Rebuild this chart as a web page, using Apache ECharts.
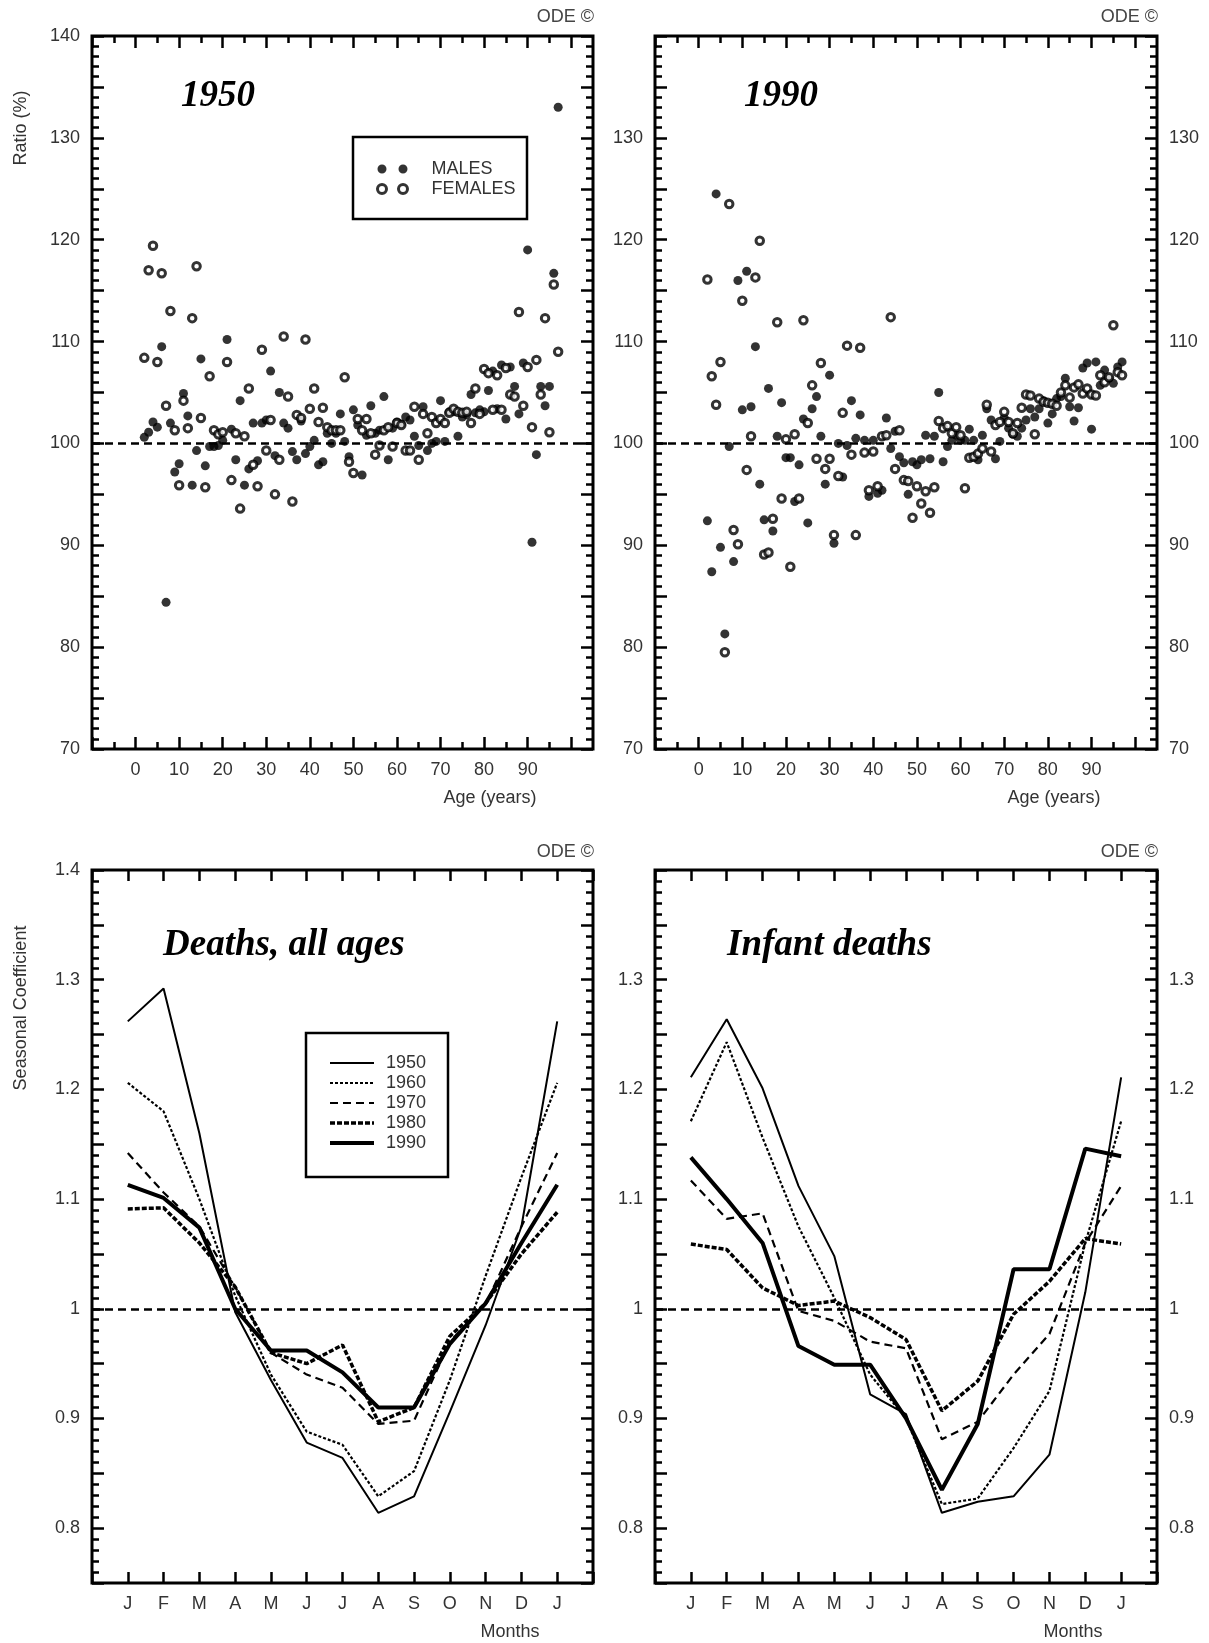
<!DOCTYPE html>
<html><head><meta charset="utf-8">
<script src="https://cdn.jsdelivr.net/npm/echarts@6/dist/echarts.min.js"></script>
<style>html,body{margin:0;padding:0;background:#fff}#c{width:1209px;height:1643px}</style>
</head><body><div id="c"></div>
<script>
// ---------------- DATA ----------------
const ages = [2,3,4,5,6,7,8,9,10,11,12,13,14,15,16,17,18,19,20,21,22,23,24,25,26,27,28,29,30,31,32,33,34,35,36,37,38,39,40,41,42,43,44,45,46,47,48,49,50,51,52,53,54,55,56,57,58,59,60,61,62,63,64,65,66,67,68,69,70,71,72,73,74,75,76,77,78,79,80,81,82,83,84,85,86,87,88,89,90,91,92,93,94,95,96,97];

const males1950 = [100.6,101.1,102.1,101.6,109.5,84.4,102.0,97.2,98.0,104.9,
102.7,95.9,99.3,108.3,97.8,99.7,99.7,99.8,100.3,110.2,
101.4,98.4,104.2,95.9,97.5,102.0,98.3,102.0,102.3,107.1,
98.8,105.0,102.0,101.5,99.2,98.4,102.2,99.0,99.7,100.3,
97.9,98.2,101.0,100.0,101.0,102.9,100.2,98.7,103.3,101.8,
96.9,100.8,103.7,101.0,101.3,104.6,98.4,101.5,102.1,101.9,
102.6,102.3,100.7,99.8,103.6,99.3,100.0,100.2,104.2,100.2,
103.1,103.1,100.7,102.6,102.8,104.8,103.0,103.3,103.1,105.2,
107.1,103.4,107.7,102.4,107.5,105.6,102.9,107.9,119.0,90.3,
98.9,105.6,103.7,105.6,116.7,133.0];

const females1950 = [108.4,117.0,119.4,108.0,116.7,103.7,113.0,101.3,95.9,104.2,
101.5,112.3,117.4,102.5,95.7,106.6,101.3,100.9,101.1,108.0,
96.4,101.0,93.6,100.7,105.4,97.9,95.8,109.2,99.3,102.3,
95.0,98.4,110.5,104.6,94.3,102.8,102.5,110.2,103.4,105.4,
102.1,103.5,101.6,101.3,101.3,101.3,106.5,98.2,97.1,102.4,
101.3,102.4,101.0,98.9,99.8,101.3,101.6,99.7,102.0,101.8,
99.3,99.3,103.6,98.4,102.9,101.0,102.6,102.0,102.4,102.0,
103.0,103.4,103.1,103.0,103.1,102.0,105.4,102.9,107.3,106.9,
103.3,106.7,103.3,107.4,104.8,104.6,112.9,103.7,107.5,101.6,
108.2,104.8,112.3,101.1,115.6,109.0];

const males1990 = [92.4,87.4,124.5,89.8,81.3,99.7,88.4,116.0,103.3,116.9,
103.6,109.5,96.0,92.5,105.4,91.4,100.7,104.0,98.6,98.6,
94.3,97.9,102.4,92.2,103.4,104.6,100.7,96.0,106.7,90.2,
100.0,96.7,99.8,104.2,100.5,102.8,100.3,94.8,100.3,95.1,
95.4,102.5,99.5,101.2,98.7,98.1,95.0,98.2,97.9,98.4,
100.8,98.5,100.7,105.0,98.2,99.7,100.3,100.8,100.3,100.3,
101.4,100.3,98.4,100.8,103.4,102.3,98.5,100.2,102.5,101.5,
100.9,100.7,101.5,102.3,103.4,102.6,103.4,104.2,102.0,102.9,
104.4,104.6,106.4,103.6,102.2,103.5,107.4,107.9,101.4,108.0,
105.7,107.2,106.4,105.9,107.5,108.0];

const females1990 = [116.1,106.6,103.8,108.0,79.5,123.5,91.5,90.1,114.0,97.4,
100.7,116.3,119.9,89.1,89.3,92.6,111.9,94.6,100.4,87.9,
100.9,94.6,112.1,102.0,105.7,98.5,107.9,97.5,98.5,91.0,
96.8,103.0,109.6,98.9,91.0,109.4,99.1,95.4,99.2,95.8,
100.7,100.8,112.4,97.5,101.3,96.4,96.3,92.7,95.8,94.1,
95.3,93.2,95.7,102.2,101.5,101.7,101.0,101.6,100.8,95.6,
98.6,98.7,99.0,99.5,103.8,99.2,101.8,102.1,103.1,102.1,
101.0,102.0,103.5,104.8,104.7,100.9,104.4,104.1,104.0,103.9,
103.7,105.0,105.7,104.5,105.5,105.8,104.9,105.4,104.8,104.7,
106.7,106.0,106.5,111.6,107.0,106.7];

const monthPos = [1,2,3,4,5,6,7,8,9,10,11,12,13];
const monthLabels = ['J','F','M','A','M','J','J','A','S','O','N','D','J'];
const yearNames = ['1950','1960','1970','1980','1990'];

// Deaths, all ages
const allAges1950 = [1.262,1.292,1.160,0.997,0.935,0.878,0.864,0.814,0.829,0.906,0.985,1.075,1.262];
const allAges1960 = [1.206,1.180,1.100,1.012,0.940,0.888,0.876,0.829,0.852,0.935,1.030,1.120,1.206];
const allAges1970 = [1.142,1.106,1.075,1.020,0.960,0.940,0.928,0.895,0.898,0.970,1.004,1.075,1.142];
const allAges1980 = [1.091,1.092,1.060,1.020,0.960,0.950,0.967,0.897,0.910,0.975,1.005,1.050,1.088];
const allAges1990 = [1.113,1.101,1.074,1.000,0.962,0.962,0.942,0.910,0.910,0.968,1.005,1.060,1.113];

// Infant deaths
const infant1950 = [1.211,1.264,1.201,1.112,1.048,0.922,0.904,0.814,0.824,0.829,0.867,1.015,1.211];
const infant1960 = [1.171,1.243,1.156,1.075,1.010,0.940,0.900,0.822,0.827,0.873,0.925,1.060,1.171];
const infant1970 = [1.117,1.082,1.087,0.998,0.989,0.970,0.964,0.881,0.897,0.940,0.977,1.060,1.112];
const infant1980 = [1.059,1.054,1.019,1.003,1.007,0.992,0.972,0.907,0.934,0.995,1.025,1.064,1.059];
const infant1990 = [1.138,1.100,1.060,0.966,0.949,0.949,0.900,0.835,0.895,1.036,1.036,1.146,1.139];

const ageMajorTicks = [-10,0,10,20,30,40,50,60,70,80,90,100];
const ageMinorTicks = [-5,5,15,25,35,45,55,65,75,85,95];
const ageTickLabels = [0,10,20,30,40,50,60,70,80,90];

// ---------------- STYLE ----------------
const TEXT = '#333';
const SANS = '"Liberation Sans", Arial, sans-serif';
const SERIF = '"Liberation Serif", "Times New Roman", serif';
const tickLine = {color:'#000', width:2.5};

const grids = [
  {left:92, top:36, width:501, height:713},
  {left:655, top:36, width:502, height:713},
  {left:92, top:870, width:501, height:713},
  {left:655, top:870, width:502, height:713}
].map(g => Object.assign({show:true, borderColor:'#000', borderWidth:3, backgroundColor:'transparent', containLabel:false}, g));

const xAxis = [], yAxis = [];
const xIdx = [], yIdx = [];
function push(arr, o){ arr.push(o); return arr.length - 1; }
function baseAxis(gi, position, extra){
  return Object.assign({type:'value', gridIndex:gi, position:position,
    axisLine:{show:false, onZero:false}, splitLine:{show:false}, minorSplitLine:{show:false}}, extra);
}
function lbl(show, extra){
  return Object.assign({show:show, color:TEXT, fontSize:18, fontFamily:SANS, margin:12}, extra);
}

[0,1].forEach(gi => {
  ['bottom','top'].forEach(pos => {
    const i = push(xAxis, baseAxis(gi, pos, {min:-10, max:105, interval:10,
      axisTick:{show:true, inside:true, length:12, lineStyle:tickLine, customValues:ageMajorTicks},
      axisLabel:lbl(pos === 'bottom', {customValues:ageTickLabels,
        formatter: v => (v >= 0 && v <= 90) ? String(v) : ''})}));
    if (pos === 'bottom') xIdx[gi] = i;
    push(xAxis, baseAxis(gi, pos, {min:-10, max:105, interval:10,
      axisTick:{show:true, inside:true, length:7, lineStyle:tickLine, customValues:ageMinorTicks},
      axisLabel:{show:false}}));
  });
  ['left','right'].forEach(pos => {
    const show = pos === 'left' || gi === 1;
    const i = push(yAxis, baseAxis(gi, pos, {min:70, max:140, interval:5,
      axisTick:{show:true, inside:true, length:12, lineStyle:tickLine},
      minorTick:{show:true, splitNumber:5, length:7, lineStyle:tickLine},
      axisLabel:lbl(show, {formatter: v => (v % 10 === 0 && !(gi === 1 && v === 140)) ? String(v) : ''})}));
    if (pos === 'left') yIdx[gi] = i;
  });
});

[2,3].forEach(gi => {
  ['bottom','top'].forEach(pos => {
    const i = push(xAxis, baseAxis(gi, pos, {min:0, max:14, interval:1,
      axisTick:{show:true, inside:true, length:11, lineStyle:tickLine},
      axisLabel:lbl(pos === 'bottom', {formatter: v => (v >= 1 && v <= 13) ? monthLabels[v - 1] : ''})}));
    if (pos === 'bottom') xIdx[gi] = i;
  });
  ['left','right'].forEach(pos => {
    const show = pos === 'left' || gi === 3;
    const i = push(yAxis, baseAxis(gi, pos, {min:0.75, max:1.4, interval:0.05,
      axisTick:{show:true, inside:true, length:12, lineStyle:tickLine},
      minorTick:{show:true, splitNumber:5, length:7, lineStyle:tickLine},
      axisLabel:lbl(show, {formatter: v => {
        const r = Math.round(v * 100);
        if (r % 10 !== 0) return '';
        if (gi === 3 && r === 140) return '';
        return String(r / 100);
      }})}));
    if (pos === 'left') yIdx[gi] = i;
  });
});

function refLine(v){
  return {silent:true, symbol:'none', animation:false, label:{show:false},
    lineStyle:{color:'#000', width:2.5, type:[8,5]}, data:[{yAxis:v}]};
}

const series = [];
function scatter(name, gi, vals, filled, ref){
  const s = {name:name, type:'scatter', xAxisIndex:xIdx[gi], yAxisIndex:yIdx[gi],
    symbol:'circle', symbolSize: filled ? 9 : 7.5,
    itemStyle: filled ? {color:'#000'} : {color:'#fff', borderColor:'#000', borderWidth:3},
    data: ages.map((a, i) => [a, vals[i]])};
  if (ref) s.markLine = refLine(100);
  series.push(s);
}
scatter('MALES', 0, males1950, true, true);
scatter('FEMALES', 0, females1950, false, false);
scatter('MALES', 1, males1990, true, true);
scatter('FEMALES', 1, females1990, false, false);

const lineStyles = {
  '1950': {color:'#000', width:2, type:'solid'},
  '1960': {color:'#000', width:2.2, type:[3,2]},
  '1970': {color:'#000', width:2.2, type:[8,5]},
  '1980': {color:'#000', width:3.5, type:[5,2]},
  '1990': {color:'#000', width:4, type:'solid'}
};
function line(name, gi, vals, ref){
  const s = {name:name, type:'line', xAxisIndex:xIdx[gi], yAxisIndex:yIdx[gi],
    symbol:'none', showSymbol:false, lineStyle:lineStyles[name], itemStyle:{color:'#000'},
    data: monthPos.map((m, i) => [m, vals[i]])};
  if (ref) s.markLine = refLine(1);
  series.push(s);
}
const allAges = [allAges1950, allAges1960, allAges1970, allAges1980, allAges1990];
const infant = [infant1950, infant1960, infant1970, infant1980, infant1990];
yearNames.forEach((y, k) => line(y, 2, allAges[k], k === 0));
yearNames.forEach((y, k) => line(y, 3, infant[k], k === 0));

function txt(x, y, text, style, extra){
  return Object.assign({type:'text', x:x, y:y, silent:true,
    style:Object.assign({text:text, fill:TEXT, fontSize:18, fontFamily:SANS,
      textAlign:'center', align:'center', textVerticalAlign:'middle', verticalAlign:'middle'}, style)}, extra);
}
const titleStyle = {fill:'#000', fontSize:37, fontWeight:'bold', fontStyle:'italic', fontFamily:SERIF,
  textAlign:'left', align:'left'};
const rightAl = {textAlign:'right', align:'right', fill:'#444'};

const graphic = [
  txt(594, 17, 'ODE ©', rightAl),
  txt(1158, 17, 'ODE ©', rightAl),
  txt(594, 852, 'ODE ©', rightAl),
  txt(1158, 852, 'ODE ©', rightAl),
  txt(181, 96, '1950', titleStyle),
  txt(744, 96, '1990', titleStyle),
  txt(163, 945, 'Deaths, all ages', titleStyle),
  txt(727, 945, 'Infant deaths', titleStyle),
  txt(21, 128, 'Ratio (%)', {}, {rotation:Math.PI/2}),
  txt(21, 1008, 'Seasonal Coefficient', {}, {rotation:Math.PI/2}),
  txt(490, 798, 'Age (years)', {}),
  txt(1054, 798, 'Age (years)', {}),
  txt(510, 1632, 'Months', {}),
  txt(1073, 1632, 'Months', {}),
  {type:'rect', silent:true, shape:{x:353, y:137, width:174, height:82},
    style:{fill:'transparent', stroke:'#000', lineWidth:2.5}},
  {type:'rect', silent:true, shape:{x:306, y:1033, width:142, height:144},
    style:{fill:'transparent', stroke:'#000', lineWidth:2.5}}
];

const TWO_DOTS = 'path://M0,4.5a4.5,4.5 0 1,0 9,0a4.5,4.5 0 1,0 -9,0zM21,4.5a4.5,4.5 0 1,0 9,0a4.5,4.5 0 1,0 -9,0z';

const option = {
  animation:false,
  backgroundColor:'#fff',
  grid:grids,
  xAxis:xAxis,
  yAxis:yAxis,
  legend:[
    {data:[{name:'MALES'}, {name:'FEMALES', itemStyle:{color:'#fff', borderColor:'#000', borderWidth:3}}],
     orient:'vertical', left:376, top:160, padding:0, itemGap:2,
     itemWidth:30, itemHeight:9, icon:TWO_DOTS, selectedMode:false,
     textStyle:{fontSize:18, color:TEXT, fontFamily:SANS, lineHeight:18, padding:[0,0,0,19]}},
    {data:yearNames.map(n => ({name:n, lineStyle:{color:'#000', width:lineStyles[n].width, type:lineStyles[n].type}})),
     orient:'vertical', left:328, top:1054, padding:0, itemGap:2,
     itemWidth:44, itemHeight:10, selectedMode:false, itemStyle:{opacity:0},
     textStyle:{fontSize:18, color:TEXT, fontFamily:SANS, lineHeight:18, padding:[0,0,0,7]}}
  ],
  graphic:graphic,
  series:series
};

const chart = echarts.init(document.getElementById('c'), null, {renderer:'canvas'});
chart.setOption(option);
</script>
</body></html>
